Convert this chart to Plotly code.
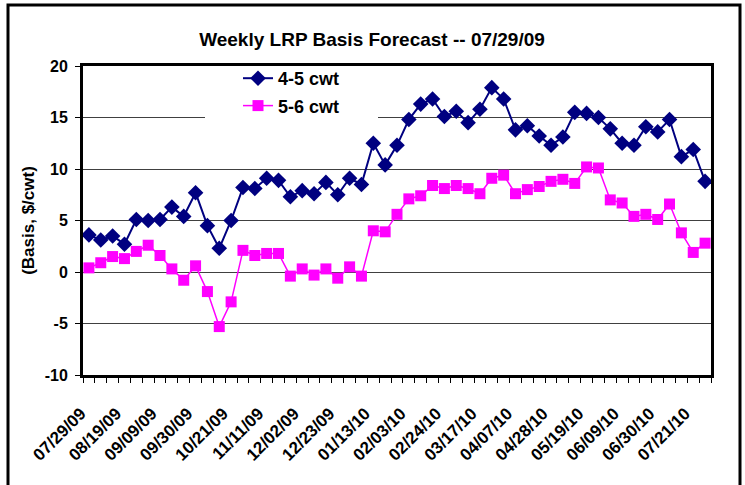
import plotly.graph_objects as go

dates = ["07/29/09","08/05/09","08/12/09","08/19/09","08/26/09","09/02/09","09/09/09","09/16/09","09/23/09","09/30/09",
         "10/07/09","10/14/09","10/21/09","10/28/09","11/04/09","11/11/09","11/18/09","11/25/09","12/02/09","12/09/09",
         "12/16/09","12/23/09","12/30/09","01/06/10","01/13/10","01/20/10","01/27/10","02/03/10","02/10/10","02/17/10",
         "02/24/10","03/03/10","03/10/10","03/17/10","03/24/10","03/31/10","04/07/10","04/14/10","04/21/10","04/28/10",
         "05/05/10","05/12/10","05/19/10","05/26/10","06/02/10","06/09/10","06/16/10","06/23/10","06/30/10","07/07/10",
         "07/14/10","07/21/10","07/28/10"]

cwt_4_5 = [3.6, 3.1, 3.5, 2.7, 5.1, 5.0, 5.1, 6.3, 5.4, 7.7,
           4.5, 2.3, 5.0, 8.2, 8.1, 9.1, 8.9, 7.3, 7.9, 7.6,
           8.7, 7.5, 9.1, 8.5, 12.5, 10.4, 12.3, 14.8, 16.3, 16.8,
           15.1, 15.6, 14.5, 15.8, 17.9, 16.8, 13.8, 14.2, 13.2, 12.3,
           13.1, 15.5, 15.4, 15.0, 13.9, 12.5, 12.3, 14.1, 13.6, 14.8,
           11.2, 11.9, 8.8]

cwt_5_6 = [0.4, 0.9, 1.5, 1.3, 2.0, 2.6, 1.6, 0.3, -0.8, 0.6,
           -1.9, -5.3, -2.9, 2.1, 1.6, 1.8, 1.8, -0.4, 0.3, -0.3,
           0.3, -0.6, 0.5, -0.4, 4.0, 3.9, 5.6, 7.1, 7.4, 8.4,
           8.1, 8.4, 8.1, 7.6, 9.1, 9.4, 7.6, 8.0, 8.3, 8.8,
           9.0, 8.6, 10.2, 10.1, 7.0, 6.7, 5.4, 5.6, 5.1, 6.6,
           3.8, 1.9, 2.8]

y_ticks = [-10, -5, 0, 5, 10, 15, 20]
y_tick_text = ["-10", "-5", "0", "5", "10", "15", "20"]

x = list(range(len(dates)))
label_idx = x[::3]
label_txt = [dates[i] for i in label_idx]

FONT = "Liberation Sans, Arial, sans-serif"

fig = go.Figure()
fig.add_trace(go.Scatter(
    x=x, y=cwt_4_5, name="4-5 cwt", mode="lines+markers",
    line=dict(color="#000080", width=2),
    marker=dict(symbol="diamond", size=12, color="#000080"),
    legendgroup="a"))
fig.add_trace(go.Scatter(
    x=x, y=cwt_5_6, name="5-6 cwt", mode="lines+markers",
    line=dict(color="#FF00FF", width=1.5),
    marker=dict(symbol="square", size=11, color="#FF00FF"),
    legendgroup="b"))

L, R, T, B = 83, 34, 66, 110
W, H = 745, 485
pw, ph = W - L - R, H - T - B
XMIN, XMAX = -0.5, len(dates) - 0.5
YMIN, YMAX = -10, 20

def px(v):
    return (v - L) / pw

def py(v):
    return (H - B - v) / ph

def dx(v):
    return XMIN + (v - L) / pw * (XMAX - XMIN)

def dy(v):
    return YMAX - (v - T) / ph * (YMAX - YMIN)

fig.update_layout(
    width=W, height=H,
    margin=dict(l=L, r=R, t=T, b=B, autoexpand=False),
    paper_bgcolor="white", plot_bgcolor="white",
    font=dict(family=FONT, color="black"),
    title=dict(text="Weekly LRP Basis Forecast -- 07/29/09",
               font=dict(family=FONT, size=19, weight="bold", color="black"),
               x=372 / W, xref="container", xanchor="center",
               y=1 - 39 / H, yref="container", yanchor="middle"),
    showlegend=True,
    legend=dict(x=px(238), y=py(60), xanchor="left", yanchor="top",
                bgcolor="rgba(0,0,0,0)", borderwidth=0,
                font=dict(family=FONT, size=18, weight="bold", color="black"),
                traceorder="grouped", tracegroupgap=1),
    xaxis=dict(range=[XMIN, XMAX],
               tickmode="array", tickvals=label_idx, ticktext=label_txt,
               tickangle=-45, ticks="", showgrid=False, zeroline=False,
               tickfont=dict(family=FONT, size=17, weight="bold", color="black"),
               ticklabelstandoff=19, ticklabelshift=-8,
               showline=True, linecolor="black", linewidth=3, mirror=True,
               minor=dict(ticks="outside", tick0=-0.5, dtick=1, ticklen=5,
                          tickcolor="black", tickwidth=1, showgrid=False)),
    yaxis=dict(range=[YMIN, YMAX], tickmode="array", tickvals=y_ticks, ticktext=y_tick_text,
               ticks="outside", ticklen=5, tickcolor="black",
               showgrid=True, gridcolor="#404040", gridwidth=1, zeroline=False,
               tickfont=dict(family=FONT, size=16, weight="bold", color="black"),
               ticklabelstandoff=4,
               showline=True, linecolor="black", linewidth=3, mirror=True,
               title=dict(text="(Basis, $/cwt)", standoff=6,
                          font=dict(family=FONT, size=17, weight="bold", color="black"))),
)

# white legend background box (covers gridline, under the traces)
fig.add_shape(type="rect", xref="x", yref="y",
              x0=dx(205), x1=dx(378), y0=dy(130), y1=dy(68),
              line=dict(width=0), fillcolor="white", layer="between")

# outer chart frame
fig.add_shape(type="rect", xref="paper", yref="paper",
              x0=px(8), x1=px(740), y0=py(5), y1=py(492),
              line=dict(color="black", width=3), fillcolor="rgba(0,0,0,0)", layer="above")

fig.write_html("out.html", config={"displayModeBar": False},
               post_script="document.body.style.margin='0';")
